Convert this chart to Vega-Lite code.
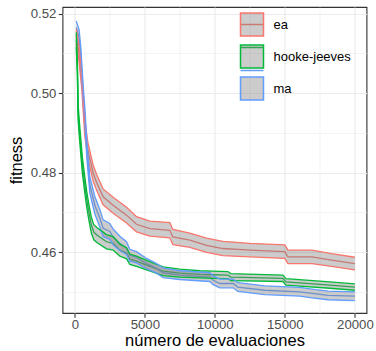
{
  "$schema": "https://vega.github.io/schema/vega-lite/v6.json",
  "width": 304,
  "height": 306,
  "autosize": {"type": "none"},
  "padding": {"left": 62.5, "top": 7, "right": 9.5, "bottom": 38},
  "config": {
    "font": "Liberation Sans",
    "view": {"stroke": "#333333", "strokeWidth": 1.1},
    "axis": {
      "labelFont": "Liberation Sans",
      "labelFontSize": 13.2,
      "labelColor": "#4D4D4D",
      "tickColor": "#333333",
      "tickWidth": 1.1,
      "tickSize": 4.2,
      "domain": false,
      "gridColor": "#EBEBEB",
      "titleFont": "Liberation Sans",
      "titleFontSize": 16.5,
      "titleFontWeight": "normal",
      "titleColor": "#000000"
    },
    "legend": {"labelFont": "Liberation Sans"}
  },
  "data": {
    "values": [
      {"method": "ea", "evaluaciones": 100, "fitness": 0.5142, "lo": 0.5124, "hi": 0.5160},
      {"method": "ea", "evaluaciones": 286, "fitness": 0.5104, "lo": 0.5084, "hi": 0.5124},
      {"method": "ea", "evaluaciones": 500, "fitness": 0.5030, "lo": 0.5010, "hi": 0.5050},
      {"method": "ea", "evaluaciones": 714, "fitness": 0.4912, "lo": 0.4892, "hi": 0.4932},
      {"method": "ea", "evaluaciones": 929, "fitness": 0.4857, "lo": 0.4837, "hi": 0.4877},
      {"method": "ea", "evaluaciones": 1307, "fitness": 0.4799, "lo": 0.4779, "hi": 0.4819},
      {"method": "ea", "evaluaciones": 1550, "fitness": 0.4776, "lo": 0.4756, "hi": 0.4796},
      {"method": "ea", "evaluaciones": 2021, "fitness": 0.4739, "lo": 0.4719, "hi": 0.4759},
      {"method": "ea", "evaluaciones": 2736, "fitness": 0.4718, "lo": 0.4698, "hi": 0.4738},
      {"method": "ea", "evaluaciones": 3693, "fitness": 0.4693, "lo": 0.4673, "hi": 0.4713},
      {"method": "ea", "evaluaciones": 4407, "fitness": 0.4670, "lo": 0.4651, "hi": 0.4689},
      {"method": "ea", "evaluaciones": 5357, "fitness": 0.4659, "lo": 0.4640, "hi": 0.4678},
      {"method": "ea", "evaluaciones": 6786, "fitness": 0.4655, "lo": 0.4636, "hi": 0.4674},
      {"method": "ea", "evaluaciones": 7000, "fitness": 0.4638, "lo": 0.4619, "hi": 0.4657},
      {"method": "ea", "evaluaciones": 8214, "fitness": 0.4630, "lo": 0.4612, "hi": 0.4648},
      {"method": "ea", "evaluaciones": 9407, "fitness": 0.4617, "lo": 0.4599, "hi": 0.4635},
      {"method": "ea", "evaluaciones": 10571, "fitness": 0.4609, "lo": 0.4591, "hi": 0.4627},
      {"method": "ea", "evaluaciones": 12500, "fitness": 0.4605, "lo": 0.4588, "hi": 0.4622},
      {"method": "ea", "evaluaciones": 15000, "fitness": 0.4601, "lo": 0.4584, "hi": 0.4618},
      {"method": "ea", "evaluaciones": 15214, "fitness": 0.4588, "lo": 0.4571, "hi": 0.4605},
      {"method": "ea", "evaluaciones": 16929, "fitness": 0.4588, "lo": 0.4571, "hi": 0.4605},
      {"method": "ea", "evaluaciones": 18336, "fitness": 0.4580, "lo": 0.4564, "hi": 0.4596},
      {"method": "ea", "evaluaciones": 20000, "fitness": 0.4571, "lo": 0.4555, "hi": 0.4587},
      {"method": "hooke-jeeves", "evaluaciones": 100, "fitness": 0.5135, "lo": 0.5117, "hi": 0.5153},
      {"method": "hooke-jeeves", "evaluaciones": 179, "fitness": 0.5070, "lo": 0.5050, "hi": 0.5090},
      {"method": "hooke-jeeves", "evaluaciones": 236, "fitness": 0.4950, "lo": 0.4930, "hi": 0.4970},
      {"method": "hooke-jeeves", "evaluaciones": 357, "fitness": 0.4895, "lo": 0.4875, "hi": 0.4915},
      {"method": "hooke-jeeves", "evaluaciones": 536, "fitness": 0.4819, "lo": 0.4799, "hi": 0.4839},
      {"method": "hooke-jeeves", "evaluaciones": 714, "fitness": 0.4769, "lo": 0.4749, "hi": 0.4789},
      {"method": "hooke-jeeves", "evaluaciones": 857, "fitness": 0.4731, "lo": 0.4711, "hi": 0.4751},
      {"method": "hooke-jeeves", "evaluaciones": 1000, "fitness": 0.4701, "lo": 0.4681, "hi": 0.4721},
      {"method": "hooke-jeeves", "evaluaciones": 1179, "fitness": 0.4668, "lo": 0.4648, "hi": 0.4688},
      {"method": "hooke-jeeves", "evaluaciones": 1357, "fitness": 0.4650, "lo": 0.4631, "hi": 0.4669},
      {"method": "hooke-jeeves", "evaluaciones": 1571, "fitness": 0.4643, "lo": 0.4624, "hi": 0.4662},
      {"method": "hooke-jeeves", "evaluaciones": 2264, "fitness": 0.4626, "lo": 0.4608, "hi": 0.4644},
      {"method": "hooke-jeeves", "evaluaciones": 2736, "fitness": 0.4622, "lo": 0.4605, "hi": 0.4639},
      {"method": "hooke-jeeves", "evaluaciones": 3214, "fitness": 0.4605, "lo": 0.4590, "hi": 0.4620},
      {"method": "hooke-jeeves", "evaluaciones": 3693, "fitness": 0.4597, "lo": 0.4583, "hi": 0.4611},
      {"method": "hooke-jeeves", "evaluaciones": 3929, "fitness": 0.4582, "lo": 0.4569, "hi": 0.4595},
      {"method": "hooke-jeeves", "evaluaciones": 4407, "fitness": 0.4577, "lo": 0.4564, "hi": 0.4590},
      {"method": "hooke-jeeves", "evaluaciones": 5121, "fitness": 0.4567, "lo": 0.4555, "hi": 0.4579},
      {"method": "hooke-jeeves", "evaluaciones": 6307, "fitness": 0.4552, "lo": 0.4541, "hi": 0.4563},
      {"method": "hooke-jeeves", "evaluaciones": 7500, "fitness": 0.4547, "lo": 0.4537, "hi": 0.4557},
      {"method": "hooke-jeeves", "evaluaciones": 8929, "fitness": 0.4544, "lo": 0.4535, "hi": 0.4553},
      {"method": "hooke-jeeves", "evaluaciones": 9857, "fitness": 0.4543, "lo": 0.4534, "hi": 0.4552},
      {"method": "hooke-jeeves", "evaluaciones": 10929, "fitness": 0.4542, "lo": 0.4533, "hi": 0.4551},
      {"method": "hooke-jeeves", "evaluaciones": 11143, "fitness": 0.4537, "lo": 0.4528, "hi": 0.4546},
      {"method": "hooke-jeeves", "evaluaciones": 14857, "fitness": 0.4534, "lo": 0.4526, "hi": 0.4542},
      {"method": "hooke-jeeves", "evaluaciones": 15071, "fitness": 0.4525, "lo": 0.4517, "hi": 0.4533},
      {"method": "hooke-jeeves", "evaluaciones": 18214, "fitness": 0.4517, "lo": 0.4509, "hi": 0.4525},
      {"method": "hooke-jeeves", "evaluaciones": 20000, "fitness": 0.4512, "lo": 0.4504, "hi": 0.4520},
      {"method": "ma", "evaluaciones": 100, "fitness": 0.5165, "lo": 0.5148, "hi": 0.5182},
      {"method": "ma", "evaluaciones": 307, "fitness": 0.5140, "lo": 0.5120, "hi": 0.5160},
      {"method": "ma", "evaluaciones": 429, "fitness": 0.5095, "lo": 0.5075, "hi": 0.5115},
      {"method": "ma", "evaluaciones": 593, "fitness": 0.5001, "lo": 0.4981, "hi": 0.5021},
      {"method": "ma", "evaluaciones": 736, "fitness": 0.4933, "lo": 0.4913, "hi": 0.4953},
      {"method": "ma", "evaluaciones": 857, "fitness": 0.4857, "lo": 0.4837, "hi": 0.4877},
      {"method": "ma", "evaluaciones": 1071, "fitness": 0.4769, "lo": 0.4749, "hi": 0.4789},
      {"method": "ma", "evaluaciones": 1429, "fitness": 0.4718, "lo": 0.4696, "hi": 0.4740},
      {"method": "ma", "evaluaciones": 1786, "fitness": 0.4685, "lo": 0.4663, "hi": 0.4707},
      {"method": "ma", "evaluaciones": 2021, "fitness": 0.4660, "lo": 0.4639, "hi": 0.4681},
      {"method": "ma", "evaluaciones": 2500, "fitness": 0.4652, "lo": 0.4632, "hi": 0.4672},
      {"method": "ma", "evaluaciones": 2736, "fitness": 0.4638, "lo": 0.4618, "hi": 0.4658},
      {"method": "ma", "evaluaciones": 3214, "fitness": 0.4622, "lo": 0.4604, "hi": 0.4640},
      {"method": "ma", "evaluaciones": 3693, "fitness": 0.4610, "lo": 0.4594, "hi": 0.4626},
      {"method": "ma", "evaluaciones": 3929, "fitness": 0.4592, "lo": 0.4577, "hi": 0.4607},
      {"method": "ma", "evaluaciones": 4407, "fitness": 0.4587, "lo": 0.4573, "hi": 0.4601},
      {"method": "ma", "evaluaciones": 5121, "fitness": 0.4571, "lo": 0.4558, "hi": 0.4584},
      {"method": "ma", "evaluaciones": 5836, "fitness": 0.4559, "lo": 0.4547, "hi": 0.4571},
      {"method": "ma", "evaluaciones": 6307, "fitness": 0.4548, "lo": 0.4536, "hi": 0.4560},
      {"method": "ma", "evaluaciones": 7500, "fitness": 0.4542, "lo": 0.4531, "hi": 0.4553},
      {"method": "ma", "evaluaciones": 9643, "fitness": 0.4537, "lo": 0.4526, "hi": 0.4548},
      {"method": "ma", "evaluaciones": 9879, "fitness": 0.4529, "lo": 0.4518, "hi": 0.4540},
      {"method": "ma", "evaluaciones": 10357, "fitness": 0.4521, "lo": 0.4510, "hi": 0.4532},
      {"method": "ma", "evaluaciones": 11307, "fitness": 0.4521, "lo": 0.4510, "hi": 0.4532},
      {"method": "ma", "evaluaciones": 11643, "fitness": 0.4512, "lo": 0.4501, "hi": 0.4523},
      {"method": "ma", "evaluaciones": 13571, "fitness": 0.4504, "lo": 0.4493, "hi": 0.4515},
      {"method": "ma", "evaluaciones": 16071, "fitness": 0.4500, "lo": 0.4489, "hi": 0.4511},
      {"method": "ma", "evaluaciones": 16929, "fitness": 0.4496, "lo": 0.4485, "hi": 0.4507},
      {"method": "ma", "evaluaciones": 18093, "fitness": 0.4491, "lo": 0.4480, "hi": 0.4502},
      {"method": "ma", "evaluaciones": 20000, "fitness": 0.4489, "lo": 0.4478, "hi": 0.4500}
    ]
  },
  "resolve": {"axis": {"x": "independent", "y": "independent"}},
  "layer": [
    {
      "mark": {"type": "line", "strokeWidth": 1.3},
      "encoding": {
        "x": {"field": "evaluaciones", "type": "quantitative",
              "scale": {"domain": [-880, 20830], "nice": false, "zero": false},
              "axis": {"orient": "top", "values": [2500, 7500, 12500, 17500], "grid": true, "gridWidth": 0.6, "labels": false, "ticks": false, "domain": false, "title": null}},
        "y": {"field": "fitness", "type": "quantitative",
              "scale": {"domain": [0.44467, 0.52169], "nice": false, "zero": false},
              "axis": {"orient": "right", "values": [0.45, 0.47, 0.49, 0.51], "grid": true, "gridWidth": 0.6, "labels": false, "ticks": false, "domain": false, "title": null}},
        "color": {"field": "method", "type": "nominal",
                  "scale": {"range": ["#F8766D", "#00BA38", "#619CFF"]},
                  "legend": {"title": null, "orient": "none", "legendX": 177, "legendY": 5, "padding": 0,
                             "symbolType": "stroke", "symbolSize": 529, "symbolStrokeWidth": 1.5,
                             "labelFontSize": 13, "labelOffset": 9, "labelExpr": "''", "rowPadding": 3}}
      }
    },
    {
      "mark": {"type": "area", "fill": "#7F7F7F", "fillOpacity": 0.4},
      "encoding": {
        "x": {"field": "evaluaciones", "type": "quantitative",
              "axis": {"orient": "bottom", "values": [0, 5000, 10000, 15000, 20000], "format": "d", "grid": true, "gridWidth": 1.1,
                       "title": "número de evaluaciones", "labelPadding": 1, "titlePadding": 2.5}},
        "y": {"field": "hi", "type": "quantitative",
              "axis": {"orient": "left", "values": [0.46, 0.48, 0.5, 0.52], "format": ".2f", "grid": true, "gridWidth": 1.1,
                       "title": "fitness", "labelPadding": 2.5, "titlePadding": 6}},
        "y2": {"field": "lo"},
        "detail": {"field": "method", "type": "nominal"}
      }
    },
    {
      "mark": {"type": "line", "strokeWidth": 1.3},
      "encoding": {
        "x": {"field": "evaluaciones", "type": "quantitative", "axis": null},
        "y": {"field": "lo", "type": "quantitative", "axis": null},
        "stroke": {"field": "method", "type": "nominal",
                   "scale": {"domain": ["ea", "hooke-jeeves", "ma"], "range": ["#F8766D", "#00BA38", "#619CFF"]},
                   "legend": {"title": null, "orient": "none", "legendX": 177, "legendY": 5, "padding": 0,
                              "symbolType": "square", "symbolSize": 529, "symbolStrokeWidth": 1.5,
                              "labelFontSize": 13, "labelColor": "#000000", "labelOffset": 9, "rowPadding": 3,
                              "encode": {"symbols": {"update": {"fill": {"value": "#7F7F7F"}, "fillOpacity": {"value": 0.4}}}}}}
      }
    },
    {
      "mark": {"type": "line", "strokeWidth": 1.3},
      "encoding": {
        "x": {"field": "evaluaciones", "type": "quantitative", "axis": null},
        "y": {"field": "hi", "type": "quantitative", "axis": null},
        "stroke": {"field": "method", "type": "nominal"}
      }
    }
  ]
}
